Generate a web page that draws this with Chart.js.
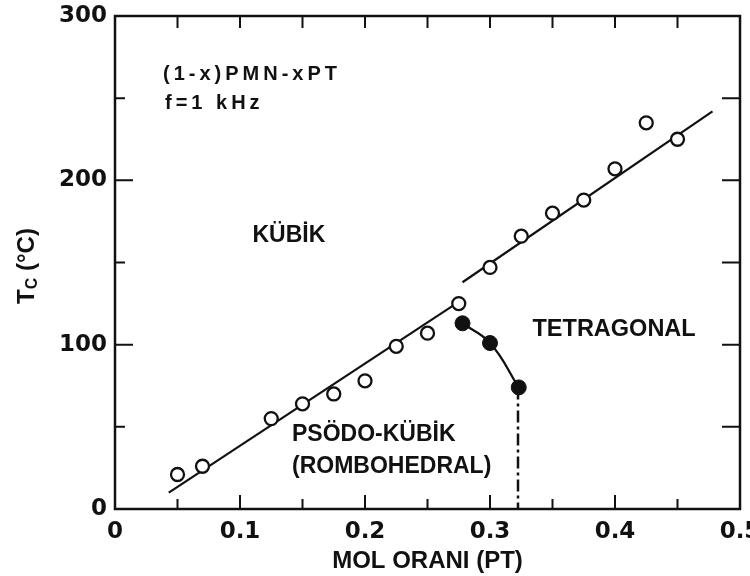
<!DOCTYPE html>
<html lang="tr">
  <head>
    <meta charset="UTF-8" />
    <script src="https://cdn.jsdelivr.net/npm/chart.js"></script>
    <style>
      html, body { margin: 0; padding: 0; background: #fff; }
      #wrap { width: 750px; height: 576px; }
    </style>
  </head>
  <body>
    <div id="wrap"><canvas id="tcChart" width="750" height="576"></canvas></div>

    <script>
      // acik daireler (kubik -> ferroelektrik gecis)
      const openX = [0.05, 0.07, 0.125, 0.15, 0.175, 0.2, 0.225, 0.25, 0.275, 0.3, 0.325, 0.35, 0.375, 0.4, 0.425, 0.45];
      const openTc = [21, 26, 55, 64, 70, 78, 99, 107, 125, 147, 166, 180, 188, 207, 235, 225];

      // dolu daireler (rombohedral -> tetragonal)
      const filledX = [0.278, 0.3, 0.323];
      const filledTc = [113, 101, 74];

      // dogru cizgiler
      const fitLowX = [0.043, 0.275];
      const fitLowTc = [10, 126];
      const fitHighX = [0.278, 0.478];
      const fitHighTc = [138, 242];

      // MPB sinir cizgisi
      const mpbX = [0.3224, 0.3224];
      const mpbTc = [74, 0];

      const xTicks = [0, 0.1, 0.2, 0.3, 0.4, 0.5];
      const yTicks = [0, 100, 200, 300];

      const toPts = (xs, ys) => xs.map((x, i) => ({ x: x, y: ys[i] }));

      const tickFont = { family: "DejaVu Sans", size: 23, weight: "bold" };

      // cerceve, iceri bakan tikler ve yazilar
      const framePlugin = {
        id: "frame",
        afterDraw(chart) {
          const { ctx, chartArea: a, scales } = chart;
          const xs = scales.x, ys = scales.y;
          ctx.save();
          ctx.strokeStyle = "#111";
          ctx.lineWidth = 2.5;
          ctx.strokeRect(a.left, a.top, a.right - a.left, a.bottom - a.top);
          ctx.lineWidth = 2;
          ctx.beginPath();
          for (let v = 0.05; v < 0.5; v += 0.05) {
            const px = xs.getPixelForValue(v);
            const major = Math.abs(v * 10 - Math.round(v * 10)) < 1e-6;
            ctx.moveTo(px, a.bottom);
            ctx.lineTo(px, a.bottom - (major ? 14 : 10));
            ctx.moveTo(px, a.top);
            ctx.lineTo(px, a.top + 12);
          }
          for (let v = 50; v < 300; v += 50) {
            const py = ys.getPixelForValue(v);
            ctx.moveTo(a.left, py);
            ctx.lineTo(a.left + (v % 100 === 0 ? 18 : 10), py);
            ctx.moveTo(a.right, py);
            ctx.lineTo(a.right - 18, py);
          }
          ctx.stroke();

          ctx.fillStyle = "#111";
          ctx.textBaseline = "middle";
          ctx.textAlign = "left";
          const notes = [
            { text: "(1-x)PMN-xPT", x: 0.0384, y: 264.5, size: 20, spacing: "4px" },
            { text: "f=1 kHz", x: 0.04, y: 247, size: 20, spacing: "4px" },
            { text: "KÜBİK", x: 0.11, y: 166.5, size: 23, spacing: "0px" },
            { text: "TETRAGONAL", x: 0.334, y: 109, size: 23.5, spacing: "0px" },
            { text: "PSÖDO-KÜBİK", x: 0.1416, y: 45, size: 23, spacing: "0px" },
            { text: "(ROMBOHEDRAL)", x: 0.1416, y: 25.6, size: 23, spacing: "0px" },
          ];
          notes.forEach((n) => {
            ctx.font = "bold " + n.size + 'px "Liberation Sans"';
            ctx.letterSpacing = n.spacing;
            ctx.fillText(n.text, xs.getPixelForValue(n.x), ys.getPixelForValue(n.y));
          });
          ctx.letterSpacing = "0px";

          // y ekseni basligi: Tc (°C)
          ctx.translate(27, 266);
          ctx.rotate(-Math.PI / 2);
          const big = 'bold 24px "Liberation Sans"';
          const small = 'bold 16px "Liberation Sans"';
          ctx.font = big;
          const wT = ctx.measureText("T").width;
          const wRest = ctx.measureText(" (°C)").width;
          ctx.font = small;
          const wc = ctx.measureText("C").width;
          let x0 = -(wT + wc + wRest) / 2;
          ctx.font = big;
          ctx.fillText("T", x0, 0);
          ctx.font = small;
          ctx.fillText("C", x0 + wT, 6);
          ctx.font = big;
          ctx.fillText(" (°C)", x0 + wT + wc, 0);
          ctx.restore();
        },
      };

      const ctx = document.getElementById("tcChart").getContext("2d");
      const tcChart = new Chart(ctx, {
        type: "scatter",
        data: {
          datasets: [
            {
              label: "Tc",
              data: toPts(openX, openTc),
              pointStyle: "circle",
              pointRadius: 6.5,
              pointBorderWidth: 2.3,
              pointBackgroundColor: "#fff",
              pointBorderColor: "#111",
              showLine: false,
              order: 0,
            },
            {
              label: "MPB",
              data: toPts(filledX, filledTc),
              pointRadius: 7.5,
              pointBorderWidth: 1,
              pointBackgroundColor: "#111",
              pointBorderColor: "#111",
              showLine: true,
              borderColor: "#111",
              borderWidth: 2.3,
              tension: 0.45,
              order: 1,
            },
            {
              label: "fit1",
              data: toPts(fitLowX, fitLowTc),
              showLine: true,
              pointRadius: 0,
              borderColor: "#111",
              borderWidth: 2.2,
              order: 2,
            },
            {
              label: "fit2",
              data: toPts(fitHighX, fitHighTc),
              showLine: true,
              pointRadius: 0,
              borderColor: "#111",
              borderWidth: 2.2,
              order: 2,
            },
            {
              label: "sinir",
              data: toPts(mpbX, mpbTc),
              showLine: true,
              pointRadius: 0,
              borderColor: "#111",
              borderWidth: 2.5,
              borderDash: [12, 4, 3, 4],
              order: 3,
            },
          ],
        },
        options: {
          responsive: false,
          animation: false,
          layout: { padding: { left: 0, top: 16, right: 10, bottom: 0 } },
          plugins: {
            legend: { display: false },
            tooltip: { enabled: false },
          },
          scales: {
            x: {
              type: "linear",
              min: 0,
              max: 0.5,
              afterBuildTicks: (s) => {
                s.ticks = xTicks.map((v) => ({ value: v }));
              },
              afterFit: (s) => {
                s.height = 67;
                s.paddingLeft = 0;
                s.paddingRight = 0;
              },
              grid: { display: false, drawTicks: false },
              border: { display: false },
              ticks: {
                padding: 9,
                color: "#111",
                font: tickFont,
                maxRotation: 0,
                autoSkip: false,
                callback: (v) => (v === 0 ? "0" : v.toFixed(1)),
              },
              title: {
                display: true,
                text: "MOL ORANI (PT)",
                color: "#111",
                font: { family: "Liberation Sans", size: 24, weight: "bold" },
                padding: { top: 0, bottom: 0 },
              },
            },
            y: {
              type: "linear",
              min: 0,
              max: 300,
              afterBuildTicks: (s) => {
                s.ticks = yTicks.map((v) => ({ value: v }));
              },
              afterFit: (s) => {
                s.width = 115;
                s.paddingTop = 0;
                s.paddingBottom = 0;
              },
              grid: { display: false, drawTicks: false },
              border: { display: false },
              ticks: {
                padding: 8,
                color: "#111",
                font: tickFont,
                autoSkip: false,
              },
            },
          },
        },
        plugins: [framePlugin],
      });
    </script>
  </body>
</html>
